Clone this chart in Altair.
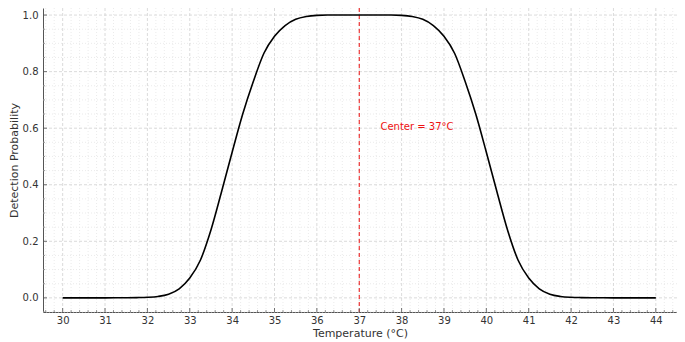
import altair as alt
import numpy as np
import pandas as pd

temps = [30.0 + 0.25 * i for i in range(57)]
left_probs = [0.0, 0.0, 0.0, 0.0, 0.0, 0.0002, 0.0005, 0.001, 0.002, 0.005,
              0.013, 0.032, 0.07, 0.133, 0.24, 0.375, 0.515, 0.65, 0.765,
              0.865, 0.925, 0.963, 0.985, 0.995, 0.999, 1.0, 1.0, 1.0, 1.0]
right_probs = [1.0, 1.0, 1.0, 0.999, 0.995, 0.985, 0.963, 0.925, 0.865,
               0.765, 0.65, 0.515, 0.375, 0.24, 0.133, 0.07, 0.032, 0.013,
               0.005, 0.002, 0.001, 0.0005, 0.0002, 0.0, 0.0, 0.0, 0.0, 0.0]
probs = left_probs + right_probs

center_temp = [37.0]
center_label = ["Center = 37°C"]

x_major = list(range(30, 45))
x_minor = [round(v, 1) for v in np.arange(29.6, 44.5, 0.2) if abs(v - round(v)) > 1e-6]
y_major = [0.0, 0.2, 0.4, 0.6, 0.8, 1.0]
y_minor = [round(v, 2) for v in np.arange(-0.05, 1.03, 0.05) if abs(v / 0.2 - round(v / 0.2)) > 1e-6]

W, H = 634, 304
FONT = "DejaVu Sans"

curve = pd.DataFrame({"t": temps, "p": probs})
xs = alt.Scale(domain=[29.536, 44.5], nice=False, zero=False)
ys = alt.Scale(domain=[-0.05, 1.025], nice=False, zero=False)

xminor_df = pd.DataFrame({"t": x_minor})
xmajor_df = pd.DataFrame({"t": x_major})
yminor_df = pd.DataFrame({"p": y_minor})
ymajor_df = pd.DataFrame({"p": y_major})

minor_grid_x = alt.Chart(xminor_df).mark_rule(color="#e6e6e6", strokeWidth=0.8, strokeDash=[1, 2]).encode(
    x=alt.X("t:Q", scale=xs))
minor_grid_y = alt.Chart(yminor_df).mark_rule(color="#e6e6e6", strokeWidth=0.8, strokeDash=[1, 2]).encode(
    y=alt.Y("p:Q", scale=ys))
major_grid_x = alt.Chart(xmajor_df).mark_rule(color="#d2d2d2", strokeWidth=0.8, strokeDash=[3, 2]).encode(
    x=alt.X("t:Q", scale=xs))
major_grid_y = alt.Chart(ymajor_df).mark_rule(color="#d2d2d2", strokeWidth=0.8, strokeDash=[3, 2]).encode(
    y=alt.Y("p:Q", scale=ys))

line = alt.Chart(curve).mark_line(color="black", strokeWidth=1.6, interpolate="monotone").encode(
    x=alt.X("t:Q", scale=xs,
            axis=alt.Axis(values=x_major, title="Temperature (°C)", grid=False, tickSize=0,
                          labelPadding=3, titlePadding=2, format="d")),
    y=alt.Y("p:Q", scale=ys,
            axis=alt.Axis(values=y_major, title="Detection Probability", grid=False, tickSize=0,
                          labelPadding=5, titlePadding=3, format=".1f")),
)

center_df = pd.DataFrame({"t": center_temp})
vline = alt.Chart(center_df).mark_rule(color="#ee1111", strokeWidth=1, strokeDash=[4, 3]).encode(
    x=alt.X("t:Q", scale=xs))

text_df = pd.DataFrame({"t": [37.5], "p": [0.605], "label": center_label})
label = alt.Chart(text_df).mark_text(color="#ee1111", fontSize=10, align="left", baseline="middle",
                                     font=FONT).encode(
    x=alt.X("t:Q", scale=xs), y=alt.Y("p:Q", scale=ys), text="label:N")

tick_color = "#555555"
xt_major = alt.Chart(xmajor_df).mark_rule(color=tick_color, strokeWidth=0.8).encode(
    x=alt.X("t:Q", scale=xs), y=alt.value(H), y2=alt.value(H - 4))
xt_minor = alt.Chart(xminor_df).mark_rule(color=tick_color, strokeWidth=0.6).encode(
    x=alt.X("t:Q", scale=xs), y=alt.value(H), y2=alt.value(H - 2))
yt_major = alt.Chart(ymajor_df).mark_rule(color=tick_color, strokeWidth=0.8).encode(
    y=alt.Y("p:Q", scale=ys), x=alt.value(0), x2=alt.value(4))
yt_minor = alt.Chart(yminor_df).mark_rule(color=tick_color, strokeWidth=0.6).encode(
    y=alt.Y("p:Q", scale=ys), x=alt.value(0), x2=alt.value(2))

chart = alt.layer(
    minor_grid_x, minor_grid_y, major_grid_x, major_grid_y,
    vline, line, label, xt_major, xt_minor, yt_major, yt_minor
).properties(
    width=W, height=H,
    autosize=alt.AutoSizeParams(type="none"),
    padding={"left": 35, "top": 0, "right": 0, "bottom": 30},
).configure_view(
    stroke=None
).configure_axis(
    domainColor="#555555", domainWidth=1,
    labelFont=FONT, labelFontSize=10, labelColor="#333333",
    titleFont=FONT, titleFontSize=11, titleColor="#333333", titleFontWeight="normal",
)
chart.save("out.html", embed_options={"renderer": "svg", "actions": False})
